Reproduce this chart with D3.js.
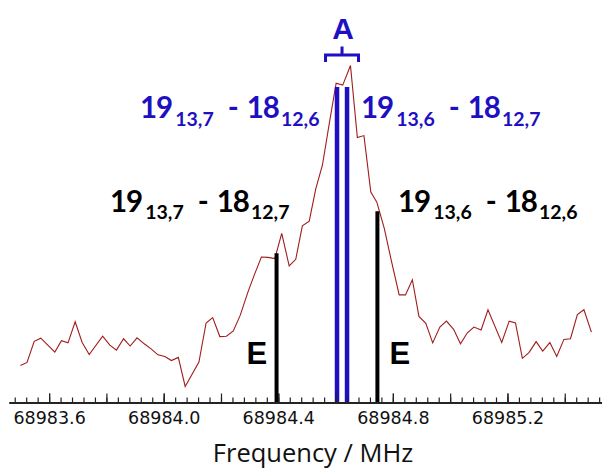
<!doctype html>
<html lang="en">
<head>
	<meta charset="utf-8">
	<title>Spectrum</title>
	<script type="text/javascript" src="https://d3js.org/d3.v7.min.js"></script>
	<style>
		body { margin: 0; background: white; }
		text { white-space: pre; }
	</style>
</head>
<body>
	<script type="text/javascript">
		var width = 602;
		var height = 470;

		// measured trace (MHz, arbitrary intensity)
		var freq = [68983.500, 68983.523, 68983.548, 68983.571, 68983.620, 68983.643, 68983.666, 68983.691, 68983.715, 68983.740,
			68983.787, 68983.812, 68983.835, 68983.860, 68983.883, 68983.907, 68983.932, 68983.956, 68983.980, 68984.004,
			68984.027, 68984.051, 68984.075, 68984.123, 68984.148, 68984.171, 68984.196, 68984.219, 68984.243, 68984.267,
			68984.294, 68984.317, 68984.341, 68984.364, 68984.388, 68984.412, 68984.438, 68984.461, 68984.484, 68984.508,
			68984.531, 68984.554, 68984.580, 68984.602, 68984.625, 68984.652, 68984.676, 68984.699, 68984.723, 68984.744,
			68984.770, 68984.795, 68984.822, 68984.844, 68984.868, 68984.891, 68984.915, 68984.939, 68984.964, 68984.987,
			68985.012, 68985.036, 68985.060, 68985.083, 68985.108, 68985.132, 68985.180, 68985.206, 68985.228, 68985.252,
			68985.275, 68985.300, 68985.323, 68985.348, 68985.372, 68985.397, 68985.420, 68985.444, 68985.467, 68985.493];
		var intensity = [0.117, 0.127, 0.194, 0.204, 0.160, 0.196, 0.189, 0.256, 0.191, 0.152,
			0.210, 0.182, 0.166, 0.202, 0.179, 0.205, 0.186, 0.170, 0.151, 0.146,
			0.133, 0.143, 0.051, 0.128, 0.252, 0.269, 0.209, 0.210, 0.227, 0.276,
			0.350, 0.406, 0.461, 0.460, 0.456, 0.536, 0.433, 0.454, 0.560, 0.575,
			0.678, 0.752, 0.895, 1.012, 1.006, 1.068, 0.840, 0.846, 0.667, 0.635,
			0.552, 0.448, 0.341, 0.341, 0.389, 0.273, 0.251, 0.189, 0.239, 0.258,
			0.232, 0.186, 0.221, 0.239, 0.230, 0.294, 0.190, 0.258, 0.252, 0.140,
			0.158, 0.193, 0.163, 0.190, 0.146, 0.200, 0.202, 0.279, 0.294, 0.223];

		// predicted lines
		var stickE = [68984.394, 68984.746];
		var stickEInt = [0.473, 0.606];
		var stickA = [68984.605, 68984.640];
		var stickAInt = [1.0, 1.0];

		var labelTicks = [68983.6, 68984.0, 68984.4, 68984.8, 68985.2];
		var majorTicks = [68983.6, 68983.8, 68984.0, 68984.2, 68984.4, 68984.6, 68984.8, 68985.0, 68985.2, 68985.4];
		var minorTicks = d3.range(0, 52).map(function(i) { return +(68983.48 + i * 0.04).toFixed(2); });

		var transitions = [
			["19", "13,7", "18", "12,6"],
			["19", "13,6", "18", "12,7"],
			["19", "13,7", "18", "12,7"],
			["19", "13,6", "18", "12,6"]
		];

		var blue = "#1e10c2";
		var red = "#a11c1c";

		var svg = d3.select("body").append("svg")
			.attr("width", width)
			.attr("height", height)
			.style("background", "white");

		var x = d3.scaleLinear().domain([68983.46, 68985.53]).range([9, 602]);
		var y = d3.scaleLinear().domain([0, 1]).range([402.5, 87]);

		// trace
		var line = d3.line()
			.x(function(d) { return x(d[0]); })
			.y(function(d) { return y(d[1]); });
		svg.append("path")
			.datum(d3.zip(freq, intensity))
			.attr("d", line)
			.attr("fill", "none")
			.attr("stroke", red)
			.attr("stroke-width", 1.1);

		// sticks
		svg.selectAll(".stickE")
			.data(d3.zip(stickE, stickEInt))
			.enter().append("line")
			.attr("class", "stickE")
			.attr("x1", function(d) { return x(d[0]); })
			.attr("x2", function(d) { return x(d[0]); })
			.attr("y1", y(0))
			.attr("y2", function(d) { return y(d[1]); })
			.attr("stroke", "black")
			.attr("stroke-width", 4);
		svg.selectAll(".stickA")
			.data(d3.zip(stickA, stickAInt))
			.enter().append("line")
			.attr("class", "stickA")
			.attr("x1", function(d) { return x(d[0]); })
			.attr("x2", function(d) { return x(d[0]); })
			.attr("y1", y(0))
			.attr("y2", function(d) { return y(d[1]); })
			.attr("stroke", blue)
			.attr("stroke-width", 4.5);

		// axis
		var axisG = svg.append("g").attr("transform", "translate(0," + y(0) + ")");
		axisG.append("g").call(d3.axisBottom(x).tickValues(minorTicks).tickSize(-5).tickSizeOuter(0).tickFormat(""));
		axisG.append("g").call(d3.axisBottom(x).tickValues(majorTicks).tickSize(-9).tickSizeOuter(0).tickFormat(""));
		axisG.append("g").call(d3.axisBottom(x).tickValues(labelTicks).tickSize(-9).tickSizeOuter(0)
			.tickPadding(9).tickFormat(d3.format(".1f")));
		axisG.selectAll("path.domain").attr("stroke", "#222").attr("stroke-width", 1.4);
		axisG.selectAll(".tick line").attr("stroke", "#222").attr("stroke-width", 1.2);
		axisG.selectAll(".tick text")
			.attr("fill", "#111")
			.style("font-family", "DejaVu Sans")
			.style("font-size", "17.5px");

		svg.append("text")
			.attr("x", 313)
			.attr("y", 461.5)
			.attr("text-anchor", "middle")
			.style("font-family", "Open Sans")
			.style("font-size", "25.5px")
			.attr("fill", "#111")
			.text("Frequency / MHz");

		// transition labels
		function chem(px, py, parts, color) {
			var t = svg.append("text")
				.attr("x", px)
				.attr("y", py)
				.attr("fill", color)
				.style("font-family", "Lato")
				.style("font-weight", "bold")
				.style("font-size", "29.5px")
				.style("letter-spacing", "-1px");
			t.append("tspan").text(parts[0]);
			t.append("tspan").attr("dy", 7.5).attr("dx", 3).style("font-size", "19.5px").style("letter-spacing", "0px").text(parts[1]);
			t.append("tspan").attr("dy", -7.5).attr("dx", 14).text("-");
			t.append("tspan").attr("dx", 9).text(parts[2]);
			t.append("tspan").attr("dy", 7.5).attr("dx", 2).style("font-size", "19.5px").style("letter-spacing", "0px").text(parts[3]);
		}
		chem(140, 118, transitions[0], blue);
		chem(361, 118, transitions[1], blue);
		chem(110, 211.5, transitions[2], "black");
		chem(398, 211.5, transitions[3], "black");

		// E labels
		svg.selectAll(".elab")
			.data(stickE)
			.enter().append("text")
			.attr("class", "elab")
			.attr("x", function(d, i) { return i == 0 ? x(d) - 30 : x(d) + 12; })
			.attr("y", 363.5)
			.style("font-family", "Liberation Sans")
			.style("font-weight", "bold")
			.style("font-size", "31px")
			.text("E");

		// A bracket
		var ac = x(d3.mean(stickA));
		svg.append("path")
			.attr("d", "M" + (ac - 16.5) + ",62 V55 H" + (ac + 16.5) + " V62 M" + ac + ",55 V46.5")
			.attr("fill", "none")
			.attr("stroke", blue)
			.attr("stroke-width", 3);
		svg.append("text")
			.attr("x", ac + 1)
			.attr("y", 38.5)
			.attr("text-anchor", "middle")
			.attr("fill", blue)
			.style("font-family", "Liberation Sans")
			.style("font-weight", "bold")
			.style("font-size", "30px")
			.text("A");
	</script>
</body>
</html>
